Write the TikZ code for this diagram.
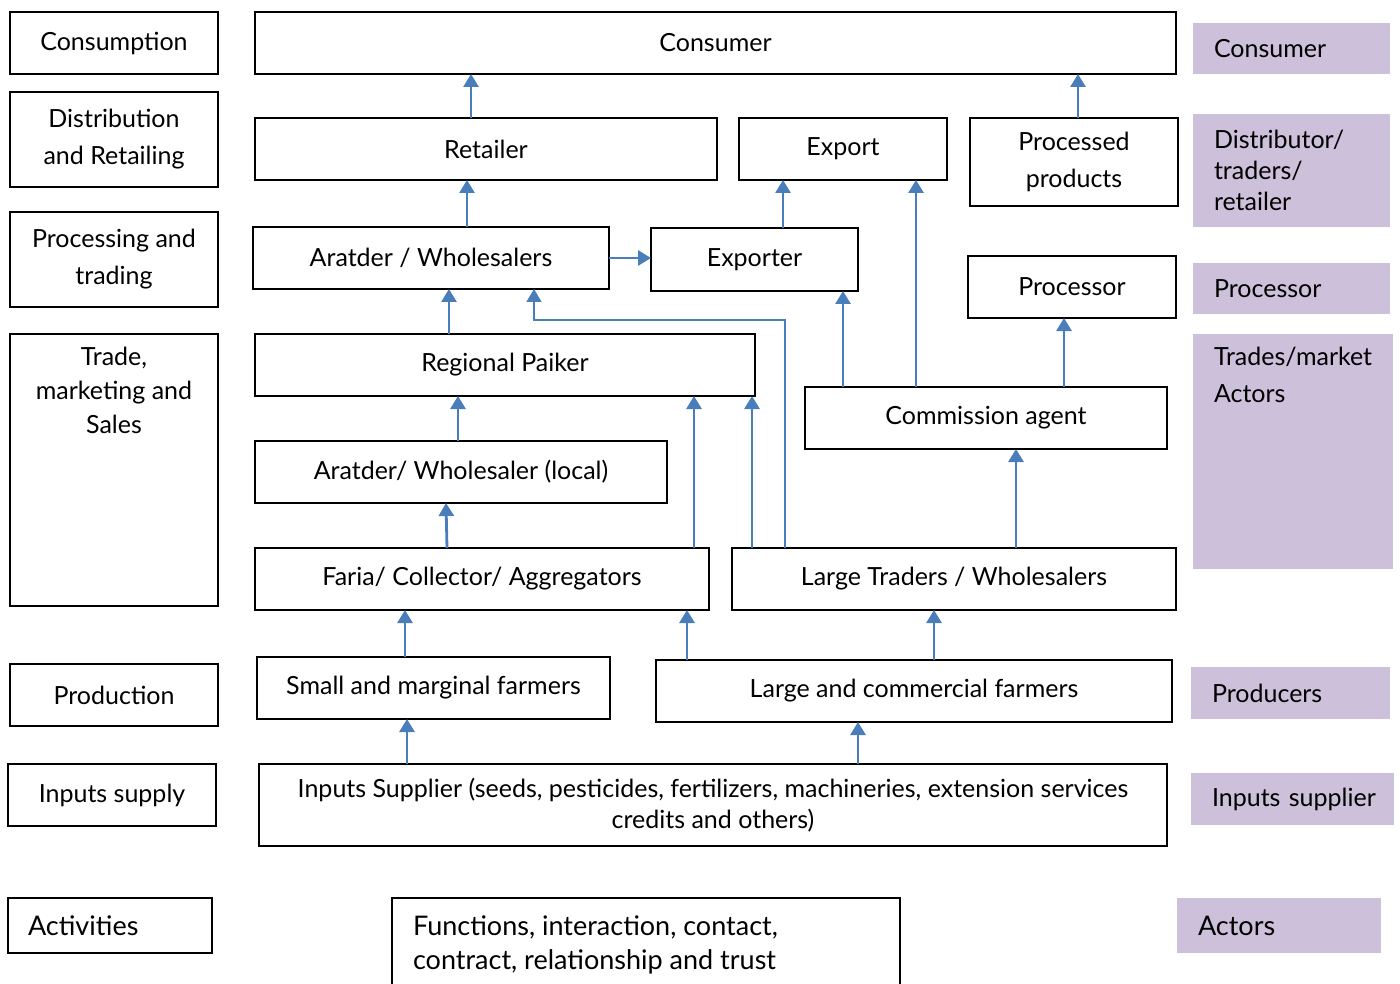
\documentclass[tikz,border=0pt]{standalone}
\usepackage{fontspec}
\setmainfont{Lato}
\usetikzlibrary{arrows.meta}
\definecolor{flowblue}{RGB}{74,126,187}
\definecolor{lilac}{RGB}{204,192,218}
\begin{document}
\begin{tikzpicture}[x=1pt,y=-1pt,
  every node/.style={font=\fontsize{25}{36}\selectfont, inner sep=0pt, outer sep=0pt},
  stage/.style={draw, line width=1.8pt, anchor=north west, align=center},
  role/.style={fill=lilac, anchor=north west, align=left, inner xsep=21pt},
  bigtext/.style={font=\fontsize{27}{34}\selectfont},
  arr/.style={flowblue, line width=2.8pt, -{Triangle[width=15pt,length=13pt]}},
  thinarr/.style={flowblue, line width=1.5pt, -{Triangle[width=15pt,length=13pt]}},
]
\useasboundingbox (0,0) rectangle (1400,984);

% activity column
\node[stage, minimum width=208pt, minimum height=62pt] (consumption) at (10,12) {Consumption};
\node[stage, minimum width=208pt, minimum height=95pt, font=\fontsize{25}{37}\selectfont] (distrib) at (10,92) {Distribution\\and Retailing};
\node[stage, minimum width=208pt, minimum height=95pt, font=\fontsize{25}{37}\selectfont] (proctrade) at (10,212) {Processing and\\trading};
\node[stage, minimum width=208pt, minimum height=272pt,
  label={[anchor=north, align=center, yshift=-13pt, font=\fontsize{25}{34}\selectfont]north:Trade,\\marketing and\\Sales}] (trade) at (10,334) {};
\node[stage, minimum width=208pt, minimum height=62pt] (production) at (10,664) {Production};
\node[stage, minimum width=208pt, minimum height=62pt] (inputsupply) at (8,764) {Inputs supply};
\node[stage, bigtext, minimum height=55pt, text width=164pt, inner xsep=20pt, align=left] (activities) at (8,898) {Activities};

% actors and flows
\node[stage, minimum width=921pt, minimum height=62pt] (consumer) at (255,12) {Consumer};
\node[stage, minimum width=462pt, minimum height=62pt] (retailer) at (255,118) {Retailer};
\node[stage, minimum width=208pt, minimum height=62pt] (export) at (739,118) {Export};
\node[stage, minimum width=208pt, minimum height=88pt, font=\fontsize{25}{37}\selectfont] (processed) at (970,118) {Processed\\products};
\node[stage, minimum width=356pt, minimum height=62pt] (aratder) at (253,227) {Aratder / Wholesalers};
\node[stage, minimum width=207pt, minimum height=63pt] (exporter) at (651,228) {Exporter};
\node[stage, minimum width=208pt, minimum height=62pt] (processor) at (968,256) {Processor};
\node[stage, minimum width=500pt, minimum height=62pt] (paiker) at (255,334) {Regional Paiker};
\node[stage, minimum width=362pt, minimum height=62pt] (commission) at (805,387) {Commission agent};
\node[stage, minimum width=412pt, minimum height=62pt] (local) at (255,441) {Aratder/ Wholesaler (local)};
\node[stage, minimum width=454pt, minimum height=62pt] (faria) at (255,548) {Faria/ Collector/ Aggregators};
\node[stage, minimum width=444pt, minimum height=62pt] (largetraders) at (732,548) {Large Traders / Wholesalers};
\node[stage, minimum width=353pt, minimum height=62pt] (smallfarm) at (257,657) {Small and marginal farmers};
\node[stage, minimum width=516pt, minimum height=62pt] (largefarm) at (656,660) {Large and commercial farmers};
\node[stage, minimum width=908pt, minimum height=82pt, font=\fontsize{25}{31}\selectfont] (supplier) at (259,764)
  {Inputs Supplier (seeds, pesticides, fertilizers, machineries, extension services\\credits and others)};
\node[stage, minimum width=508pt, minimum height=110pt,
  label={[anchor=north west, align=left, bigtext, xshift=21pt, yshift=-18pt]north west:Functions, interaction, contact,\\contract, relationship and trust}] (functions) at (392,898) {};

% actor column
\node[role, minimum height=51pt, text width=155pt] (rconsumer) at (1193,23) {Consumer};
\node[role, minimum height=113pt, text width=155pt, font=\fontsize{25}{31}\selectfont] (rdistrib) at (1193,114) {Distributor/\\traders/\\retailer};
\node[role, minimum height=51pt, text width=155pt] (rprocessor) at (1193,263) {Processor};
\node[role, minimum width=200pt, minimum height=235pt,
  label={[anchor=north west, align=left, xshift=21pt, yshift=-13pt, font=\fontsize{25}{37}\selectfont]north west:Trades/market\\Actors}] (rtrades) at (1193,334) {};
\node[role, minimum height=52pt, text width=157pt] (rproducers) at (1191,667) {Producers};
\node[role, minimum height=52pt, text width=161pt] (rinputs) at (1191,773) {\mbox{Inputs supplier}};
\node[role, bigtext, minimum height=55pt, text width=162pt] (ractors) at (1177,898) {Actors};

% connectors
\draw[arr] (retailer.north -| 471,0) -- (consumer.south -| 471,0);
\draw[arr] (processed.north -| 1078,0) -- (consumer.south -| 1078,0);
\draw[arr] (aratder.north -| 467,0) -- (retailer.south -| 467,0);
\draw[arr] (aratder.east |- 0,258) -- (exporter.west |- 0,258);
\draw[arr] (exporter.north -| 783,0) -- (export.south -| 783,0);
\draw[arr] (commission.north -| 916,0) -- (export.south -| 916,0);
\draw[arr] (commission.north -| 843,0) -- (exporter.south -| 843,0);
\draw[arr] (commission.north -| 1064,0) -- (processor.south -| 1064,0);
\draw[arr] (paiker.north -| 449,0) -- (aratder.south -| 449,0);
\coordinate (bend) at (534,320);
\draw[thinarr] (largetraders.north -| 785,0) |- (bend) -- (aratder.south -| bend);
\draw[arr] (local.north -| 458,0) -- (paiker.south -| 458,0);
\draw[arr] (faria.north -| 694,0) -- (paiker.south -| 694,0);
\draw[arr] (largetraders.north -| 752,0) -- (paiker.south -| 752,0);
\draw[arr] (largetraders.north -| 1016,0) -- (commission.south -| 1016,0);
\draw[arr] (faria.north -| 447,0) -- (local.south -| 446,0);
\draw[arr] (smallfarm.north -| 405,0) -- (faria.south -| 405,0);
\draw[arr] (largefarm.north -| 687,0) -- (faria.south -| 687,0);
\draw[arr] (largefarm.north -| 934,0) -- (largetraders.south -| 934,0);
\draw[arr] (supplier.north -| 407,0) -- (smallfarm.south -| 407,0);
\draw[arr] (supplier.north -| 858,0) -- (largefarm.south -| 858,0);
\end{tikzpicture}
\end{document}
